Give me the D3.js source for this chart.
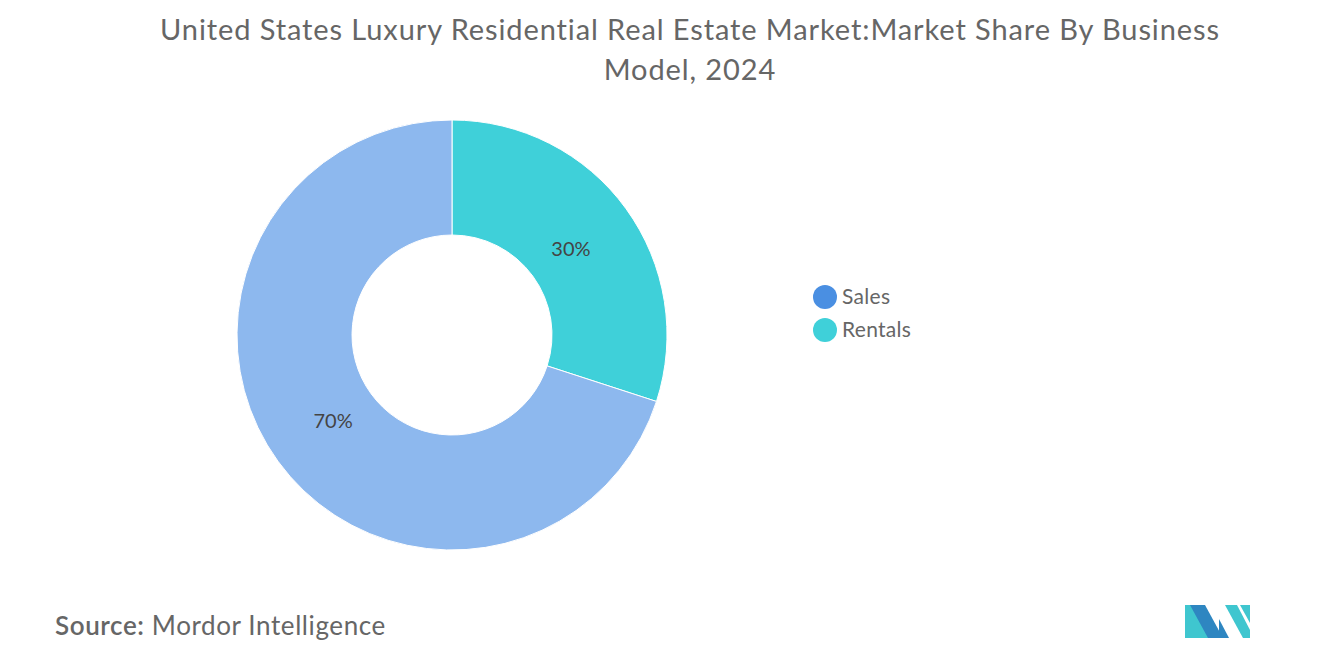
<!DOCTYPE html><html><head><meta charset="utf-8">
<script src="https://cdn.jsdelivr.net/npm/d3@7"></script>
<style>body{margin:0;background:#fff}svg{font-family:Lato,"Open Sans",sans-serif}</style></head><body>
<svg id="c" width="1320" height="665"></svg>
<script>
const categories=["Rentals","Sales"];
const values=[30,70];
const sliceColors=["#3FD0D9","#8DB8EE"];
const legendLabels=["Sales","Rentals"];
const legendColors=["#4A8FE2","#3FD0D9"];
const svg=d3.select("#c");
svg.append("text").attr("x",690).attr("y",40).attr("text-anchor","middle").attr("font-size",29).attr("letter-spacing",0.9).attr("fill","#666").text("United States Luxury Residential Real Estate Market:Market Share By Business");
svg.append("text").attr("x",690).attr("y",80).attr("text-anchor","middle").attr("font-size",29).attr("letter-spacing",0.9).attr("fill","#666").text("Model, 2024");
const g=svg.append("g").attr("transform","translate(452,335)");
const pie=d3.pie().sort(null)(values);
const arc=d3.arc().innerRadius(100).outerRadius(215);
g.selectAll("path").data(pie).join("path").attr("d",arc).attr("fill",(d,i)=>sliceColors[i]).attr("stroke","#fff").attr("stroke-width",1);
const la=d3.arc().innerRadius(147).outerRadius(147);
g.selectAll("text").data(pie).join("text").attr("transform",d=>`translate(${la.centroid(d)})`).attr("text-anchor","middle").attr("dy","0.35em").attr("font-size",20).attr("fill","#444").text(d=>d.value+"%");
const lg=svg.append("g").attr("transform","translate(825,297)");
legendLabels.forEach((l,i)=>{
 lg.append("circle").attr("cx",0).attr("cy",i*33).attr("r",12).attr("fill",legendColors[i]);
 lg.append("text").attr("x",17).attr("y",i*33).attr("dy","0.35em").attr("font-size",21).attr("letter-spacing",0.3).attr("fill","#666").text(l);
});
svg.append("text").attr("x",55).attr("y",635).attr("font-size",26).attr("letter-spacing",0.6).attr("fill","#666").html('<tspan font-weight="600">Source:</tspan>  Mordor Intelligence');
const lgo=svg.append("g").attr("transform","translate(1185,605)");
lgo.append("polygon").attr("points","0,33 0,0 10,0 28,33").attr("fill","#3FC6CF");
lgo.append("polygon").attr("points","5,0 20,0 38,33 23,33").attr("fill","#2E86C1");
lgo.append("polygon").attr("points","34,33 34,14 44,33").attr("fill","#2E86C1");
lgo.append("polygon").attr("points","40,0 52,0 65,25 65,33 58,33 40,0").attr("fill","#3FC6CF");
lgo.append("polygon").attr("points","55,0 65,0 65,18").attr("fill","#3FC6CF");
</script></body></html>
